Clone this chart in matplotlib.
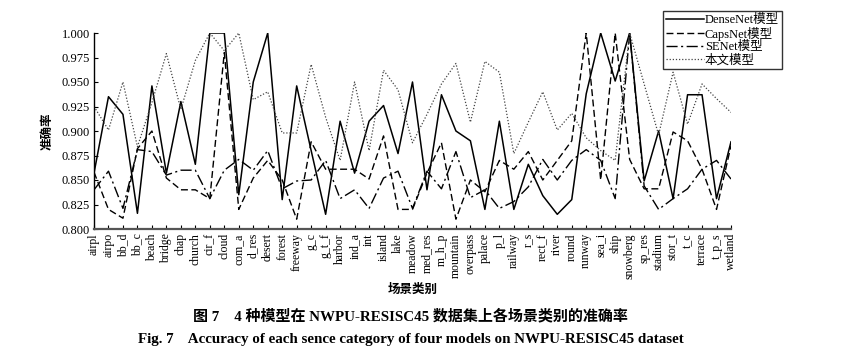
import matplotlib
matplotlib.use("Agg")
import matplotlib.pyplot as plt

plt.rcParams['font.family'] = ['Liberation Serif', 'Noto Sans CJK SC']

categories = ["airpl", "airpo", "bb_d", "bb_c", "beach", "bridge", "chap", "church",
              "cir_f", "cloud", "com_a", "d_res", "desert", "forest", "freeway", "g_c",
              "g_t_f", "harbor", "ind_a", "int", "island", "lake", "meadow", "med_res",
              "m_h_p", "mountain", "overpass", "palace", "p_l", "railway", "r_s", "rect_f",
              "river", "round", "runway", "sea_i", "ship", "snowberg", "sp_res", "stadium",
              "stor_t", "t_c", "terrace", "t_p_s", "wetland"]

densenet = [0.857, 0.935, 0.917, 0.816, 0.946, 0.857, 0.930, 0.866, 1.000, 1.000,
            0.835, 0.950, 1.000, 0.830, 0.946, 0.880, 0.815, 0.910, 0.857, 0.910,
            0.926, 0.877, 0.950, 0.840, 0.937, 0.900, 0.890, 0.820, 0.910, 0.820,
            0.866, 0.834, 0.815, 0.830, 0.938, 1.000, 0.951, 1.000, 0.849, 0.900,
            0.831, 0.937, 0.937, 0.831, 0.889]

capsnet = [0.858, 0.820, 0.811, 0.882, 0.900, 0.852, 0.840, 0.840, 0.831, 0.980,
           0.820, 0.852, 0.870, 0.850, 0.810, 0.889, 0.861, 0.861, 0.861, 0.851,
           0.895, 0.820, 0.820, 0.857, 0.888, 0.810, 0.850, 0.838, 0.870, 0.861,
           0.879, 0.850, 0.870, 0.890, 1.000, 0.850, 1.000, 0.871, 0.841, 0.841,
           0.899, 0.890, 0.861, 0.820, 0.885]

senet = [0.840, 0.859, 0.821, 0.881, 0.879, 0.855, 0.860, 0.860, 0.831, 0.860,
         0.871, 0.860, 0.880, 0.841, 0.849, 0.850, 0.870, 0.831, 0.840, 0.821,
         0.852, 0.859, 0.821, 0.859, 0.841, 0.879, 0.832, 0.840, 0.821, 0.828,
         0.843, 0.871, 0.850, 0.870, 0.881, 0.870, 0.831, 1.000, 0.844, 0.820,
         0.831, 0.841, 0.861, 0.870, 0.851]

ours = [0.925, 0.901, 0.950, 0.884, 0.929, 0.979, 0.922, 0.972, 1.000, 0.982,
        1.000, 0.932, 0.940, 0.898, 0.898, 0.968, 0.914, 0.870, 0.950, 0.880,
        0.962, 0.942, 0.888, 0.917, 0.948, 0.969, 0.909, 0.971, 0.960, 0.877,
        0.909, 0.940, 0.901, 0.918, 0.893, 0.880, 0.870, 1.000, 0.948, 0.896,
        0.960, 0.907, 0.948, 0.933, 0.919]

yticks = [0.800, 0.825, 0.850, 0.875, 0.900, 0.925, 0.950, 0.975, 1.000]

fig = plt.figure(figsize=(8.5, 3.51), dpi=100)
ax = fig.add_axes([94 / 850, 1 - 229 / 351, (731 - 94) / 850, (229 - 33) / 351])

x = list(range(len(categories)))
ax.plot(x, densenet, color="black", lw=1.1, ls="-", label="DenseNet模型")
ax.plot(x, capsnet, color="black", lw=1.0, ls=(0, (5, 2.5)), label="CapsNet模型")
ax.plot(x, senet, color="black", lw=1.0, ls=(0, (8, 2.5, 1.5, 2.5)), label="SENet模型")
ax.plot(x, ours, color="#444444", lw=0.9, ls=(0, (1, 1.5)), label="本文模型")

ax.set_xlim(0, len(categories) - 1)
ax.set_ylim(0.8, 1.0)
ax.set_yticks(yticks)
ax.set_yticklabels([f"{v:.3f}" for v in yticks], fontsize=9)
ax.set_xticks(x)
ax.set_xticklabels(categories, rotation=90, fontsize=8.5)
ax.tick_params(direction="in", length=3, width=0.8, pad=3)

ax.spines["top"].set_visible(False)
ax.spines["right"].set_visible(False)
ax.spines["left"].set_linewidth(1.0)
ax.spines["bottom"].set_linewidth(1.6)
ax.spines["bottom"].set_color("#555555")

ax.set_ylabel("准确率", fontsize=9, fontweight="bold", labelpad=6)
ax.set_xlabel("场景类别", fontsize=9, fontweight="bold", labelpad=4)

leg = fig.legend(loc="upper left", bbox_to_anchor=(663 / 850, 1 - 11 / 351),
                 fontsize=9, frameon=True, fancybox=False, edgecolor="black",
                 handlelength=3.0, handletextpad=0.1, labelspacing=0.05,
                 borderpad=0.25, borderaxespad=0)
leg.get_frame().set_linewidth(1.0)

fig.text(0.483, 1 - 316 / 351, "图 7    4 种模型在 NWPU-RESISC45 数据集上各场景类别的准确率",
         ha="center", va="center", fontsize=10.8, fontweight="bold")
fig.text(0.483, 1 - 339 / 351,
         "Fig. 7    Accuracy of each sence category of four models on NWPU-RESISC45 dataset",
         ha="center", va="center", fontsize=10.8, fontweight="bold")

fig.savefig("out.png", dpi=100)
